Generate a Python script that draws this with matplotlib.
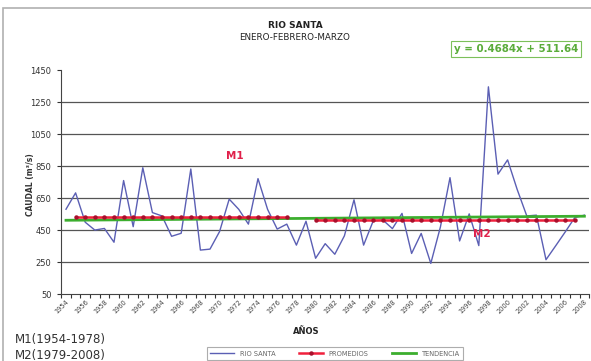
import matplotlib
matplotlib.use("Agg")
import matplotlib.pyplot as plt
import matplotlib.transforms as mtransforms
from matplotlib.patches import Rectangle
import numpy as np

years = list(range(1954, 2009))
caudal = [581, 683, 500, 451, 461, 375, 760, 472, 840, 560, 539, 412, 431, 832,
          326, 332, 442, 644, 580, 488, 772, 580, 457, 488, 357,
          506, 275, 366, 300, 415, 640, 357, 508, 514, 460, 555, 305, 430, 243, 470,
          778, 383, 552, 354, 1345, 800, 889, 704, 539, 544, 266, 352, 439, 529, 544]
m1_years = list(range(1955, 1978))
m1_value = 534.5
m2_years = list(range(1980, 2008))
m2_value = 512.0
trend_slope = 0.4684
trend_intercept = 511.64
ytick_vals = [50, 250, 450, 650, 850, 1050, 1250, 1450]
xtick_labels = [str(y) for y in range(1954, 2009, 2)]

W, H = 591, 361
fig = plt.figure(figsize=(W / 100, H / 100), dpi=100)
fig.patch.set_facecolor("white")

# outer frame of the scanned chart
fig.add_artist(Rectangle((3 / W, -0.05), 1.2, 1 - 8 / H + 0.05, transform=fig.transFigure,
                         fill=False, edgecolor="#b0b0b0", linewidth=1.2))

ax = fig.add_axes([61.2 / W, 1 - 294.3 / H, 528 / W, 224.3 / H])
idx = np.arange(len(years))
yr_to_i = {y: i for i, y in enumerate(years)}

ax.plot(idx, caudal, color="#5b5fb4", lw=1.0, zorder=3, label="RIO SANTA")
i1 = [yr_to_i[y] for y in m1_years]
i2 = [yr_to_i[y] for y in m2_years]
ax.plot(i1, [m1_value] * len(i1), color="#f0203c", lw=1.8, marker="o", ms=2.2,
        mfc="#a8102c", mec="#a8102c", zorder=4, label="PROMEDIOS")
ax.plot(i2, [m2_value] * len(i2), color="#f0203c", lw=1.8, marker="o", ms=2.2,
        mfc="#a8102c", mec="#a8102c", zorder=4)
xt = idx + 1
ax.plot(idx, trend_slope * xt + trend_intercept, color="#3cae2e", lw=2.0, zorder=3.5,
        label="TENDENCIA")

ax.set_xlim(-0.5, len(years) - 0.5)
ax.set_ylim(50, 1450)
ax.set_yticks(ytick_vals)
ax.set_yticklabels([str(v) for v in ytick_vals], fontsize=6, color="#333333")
for v in ytick_vals[1:-1]:
    ax.axhline(v, color="#555555", lw=0.9, zorder=1)

ax.set_xticks(np.arange(-0.5, len(years), 1), minor=True)
ax.set_xticks([yr_to_i[int(s)] for s in xtick_labels])
ax.set_xticklabels(xtick_labels, rotation=45, ha="right", va="top",
                   rotation_mode="anchor", fontsize=4.8, color="#444444")
offset = mtransforms.ScaledTranslation(-4 / 100, 0, fig.dpi_scale_trans)
for lab in ax.get_xticklabels():
    lab.set_transform(lab.get_transform() + offset)
ax.tick_params(axis="x", which="major", length=0, pad=3)
ax.tick_params(axis="x", which="minor", length=3, color="#333333", width=0.8)
ax.tick_params(axis="y", length=3, color="#333333", width=0.8, pad=4)
for s in ["top", "right"]:
    ax.spines[s].set_visible(False)
for s in ["left", "bottom"]:
    ax.spines[s].set_color("#444444")
    ax.spines[s].set_linewidth(0.8)

fig.text(295 / W, 1 - 26 / H, "RIO SANTA", ha="center", va="center", fontsize=6.5,
         fontweight="bold", color="#222222")
fig.text(295 / W, 1 - 37 / H, "ENERO-FEBRERO-MARZO", ha="center", va="center",
         fontsize=6.3, color="#222222")
fig.text(516 / W, 1 - 49 / H, "y = 0.4684x + 511.64", ha="center", va="center",
         fontsize=7.4, fontweight="bold", color="#5aac3a",
         bbox=dict(boxstyle="square,pad=0.3", fc="white", ec="#7cc05a", lw=0.8))
fig.text(235 / W, 1 - 156 / H, "M1", ha="center", va="center", fontsize=7.5,
         fontweight="bold", color="#e0204a")
fig.text(482 / W, 1 - 234 / H, "M2", ha="center", va="center", fontsize=7.5,
         fontweight="bold", color="#e0204a")
fig.text(30 / W, 1 - 185 / H, "CAUDAL (m³/s)", ha="center", va="center", rotation=90,
         fontsize=5.5, fontweight="bold", color="#333333")
fig.text(306 / W, 1 - 332 / H, "AÑOS", ha="center", va="center", fontsize=6,
         fontweight="bold", color="#222222")
fig.text(15 / W, 1 - 340 / H, "M1(1954-1978)", ha="left", va="center", fontsize=8.5,
         color="#333333")
fig.text(15 / W, 1 - 355 / H, "M2(1979-2008)", ha="left", va="center", fontsize=8.5,
         color="#333333")

leg = fig.legend(loc="upper center", bbox_to_anchor=(335 / W, 1 - 344 / H), ncol=3,
                 fontsize=4.8, frameon=True, fancybox=False, edgecolor="#999999",
                 handlelength=3.6, columnspacing=3.6, borderpad=0.5, labelcolor="#666666")
leg.get_frame().set_linewidth(0.8)

fig.savefig("out.png", dpi=100)
